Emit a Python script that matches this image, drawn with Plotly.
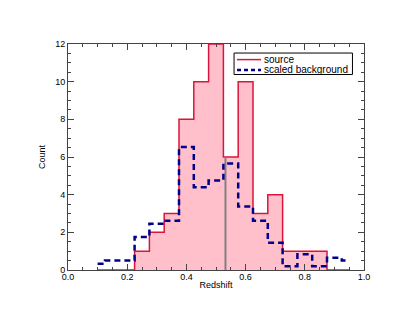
import plotly.graph_objects as go

# source histogram (bin edges + counts)
src_edges = [0.1, 0.225, 0.275, 0.325, 0.375, 0.425, 0.475, 0.525, 0.575,
             0.625, 0.675, 0.725, 0.775, 0.825, 0.875, 0.95]
src_counts = [0, 1, 2, 3, 8, 10, 12, 6, 10, 3, 4, 1, 1, 1, 0]

# scaled background histogram
bkg_edges = [0.1, 0.125, 0.225, 0.275, 0.325, 0.375, 0.425, 0.475, 0.525,
             0.575, 0.625, 0.675, 0.725, 0.775, 0.825, 0.875, 0.925, 0.95]
bkg_counts = [0.33, 0.5, 1.75, 2.45, 2.62, 6.53, 4.4, 4.75, 5.65,
              3.37, 2.62, 1.45, 0.2, 0.83, 0.2, 0.65, 0.5]

# marker line (median redshift)
z_mark = 0.532
z_mark_height = 6

legend_labels = ['source', 'scaled background']

RED = '#dc143c'
NAVY = '#00008b'
BKG_DASH = '6px,4px'

fig = go.Figure()

fig.add_trace(go.Scatter(
    x=src_edges, y=src_counts + [src_counts[-1]],
    mode='lines', line=dict(shape='hv', color=RED, width=1.5),
    fill='tozeroy', fillcolor='#ffc0cb', showlegend=False))

fig.add_trace(go.Scatter(
    x=[z_mark, z_mark], y=[0, z_mark_height], mode='lines',
    line=dict(color='#808080', width=2), showlegend=False))

fig.add_trace(go.Scatter(
    x=bkg_edges, y=bkg_counts + [bkg_counts[-1]],
    mode='lines', line=dict(shape='hv', color=NAVY, width=2.5, dash=BKG_DASH),
    showlegend=False))

axis_style = dict(showline=True, linecolor='#444', linewidth=1, mirror='ticks',
                  ticks='inside', ticklen=6, tickcolor='#444', showgrid=False,
                  zeroline=False, tickfont=dict(size=9, color='black'))

fig.update_xaxes(range=[0, 1], dtick=0.2, tickformat='.1f', ticklabelstandoff=-2,
                 minor=dict(dtick=0.05, ticks='inside', ticklen=3, tickcolor='#444'),
                 title=dict(text='Redshift', font=dict(size=9, color='black'), standoff=0),
                 **axis_style)
fig.update_yaxes(range=[0, 12], dtick=2,
                 minor=dict(dtick=0.5, ticks='inside', ticklen=3, tickcolor='#444'),
                 title=dict(text='Count', font=dict(size=9, color='black'), standoff=8),
                 **axis_style)

# hand-drawn compact legend box (paper coordinates)
lx0, lx1, ly0, ly1 = 0.561, 0.961, 0.865, 0.960
rows = [0.931, 0.885]
samples = [dict(color=RED, width=1.5), dict(color=NAVY, width=2.5, dash='4px,3px')]
fig.add_shape(type='rect', xref='paper', yref='paper', x0=lx0, x1=lx1, y0=ly0, y1=ly1,
              line=dict(color='black', width=1), fillcolor='white', layer='above')
for label, ry, ln in zip(legend_labels, rows, samples):
    fig.add_shape(type='line', xref='paper', yref='paper', x0=0.571, x1=0.652,
                  y0=ry, y1=ry, line=ln, layer='above')
    fig.add_annotation(xref='paper', yref='paper', x=0.656, y=ry, text=label,
                       showarrow=False, xanchor='left', yanchor='middle',
                       font=dict(size=10, color='black'))

fig.update_layout(
    width=415, height=321,
    margin=dict(l=60, r=59, t=36, b=59),
    plot_bgcolor='white', paper_bgcolor='white',
    font=dict(family='Liberation Sans, Arial, sans-serif', size=9, color='black'),
    showlegend=False,
)

fig.write_html("out.html")
